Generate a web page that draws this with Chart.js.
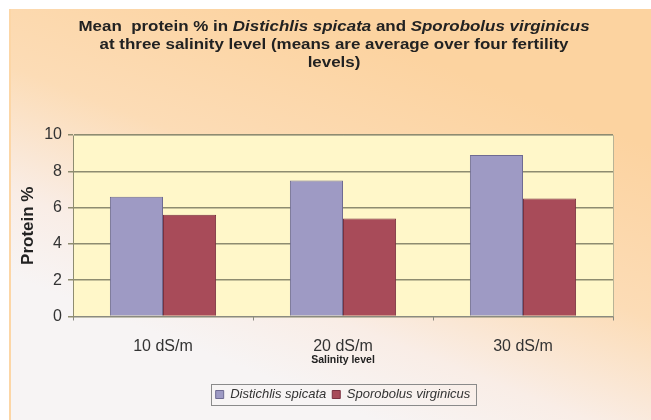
<!DOCTYPE html>
<html>
<head>
<meta charset="utf-8">
<script src="https://cdn.jsdelivr.net/npm/chart.js@4"></script>
<style>
  html, body { margin: 0; padding: 0; background: #fff; }
  #wrap { width: 651px; height: 420px; }
</style>
</head>
<body>
<div id="wrap"><canvas id="chart" width="651" height="420"></canvas></div>
<script>
const salinity = ['10 dS/m', '20 dS/m', '30 dS/m'];
const distichlis = [6.6, 7.5, 8.9];
const sporobolus = [5.6, 5.4, 6.5];
const seriesNames = ['Distichlis spicata', 'Sporobolus virginicus'];
const yTicks = [0, 2, 4, 6, 8, 10];

// title lines, each split into [text, italic] pieces
const titleLines = [
  [['Mean  protein % in ', false], ['Distichlis spicata', true], [' and ', false], ['Sporobolus virginicus', true]],
  [['at three salinity level (means are average over four fertility', false]],
  [['levels)', false]]
];

const FONT = '"Liberation Sans", Arial, sans-serif';

const backdrop = {
  id: 'backdrop',
  afterLayout(chart) {
    // centre the legend under the plot area instead of the whole canvas
    const l = chart.legend, a = chart.chartArea;
    const shift = (a.left + a.right) / 2 - (l.left + l.right) / 2;
    l.left += shift;
    l.right += shift;
  },
  beforeDraw(chart) {
    const c = chart.ctx, a = chart.chartArea;
    c.save();
    c.fillStyle = '#ffffff';
    c.fillRect(0, 0, chart.width, chart.height);
    const g = c.createLinearGradient(430, 60, 300, 390);
    g.addColorStop(0, '#fcd3a0');
    g.addColorStop(0.45, '#fcdcb6');
    g.addColorStop(0.78, '#f9ede6');
    g.addColorStop(1, '#f7f4f4');
    c.fillStyle = g;
    c.fillRect(9, 9, chart.width - 9, chart.height - 9);
    c.fillStyle = '#fcd6a6';
    c.fillRect(9, 9, 2, chart.height - 9);
    c.fillStyle = '#fff7c9';
    c.fillRect(a.left, a.top, a.right - a.left, a.bottom - a.top);
    c.restore();
  },
  afterDraw(chart) {
    const c = chart.ctx, a = chart.chartArea;
    c.save();
    // plot frame
    c.strokeStyle = '#b8b496';
    c.lineWidth = 1;
    c.beginPath();
    c.moveTo(a.left, a.top + 0.5);
    c.lineTo(a.right + 0.5, a.top + 0.5);
    c.lineTo(a.right + 0.5, a.bottom);
    c.stroke();
    // legend frame around the items only
    const hb = chart.legend.legendHitBoxes;
    if (hb && hb.length) {
      const x0 = Math.min(...hb.map(h => h.left)) - 5;
      const x1 = Math.max(...hb.map(h => h.left + h.width)) + 5;
      const y0 = Math.min(...hb.map(h => h.top)) - 4;
      const y1 = Math.max(...hb.map(h => h.top + h.height)) + 4;
      c.strokeStyle = '#8a8a8a';
      c.strokeRect(Math.round(x0) + 0.5, Math.round(y0) + 0.5, Math.round(x1 - x0), Math.round(y1 - y0));
    }
    // title, slightly widened like the original
    c.fillStyle = '#222';
    c.textBaseline = 'middle';
    const ys = [27, 45, 63];
    const sx = 1.21;
    titleLines.forEach((line, i) => {
      let total = 0;
      line.forEach(([t, it]) => {
        c.font = (it ? 'italic ' : '') + 'bold 14px ' + FONT;
        total += c.measureText(t).width;
      });
      c.save();
      c.translate(334, ys[i]);
      c.scale(sx, 1);
      let x = -total / 2;
      line.forEach(([t, it]) => {
        c.font = (it ? 'italic ' : '') + 'bold 14px ' + FONT;
        c.fillText(t, x, 0);
        x += c.measureText(t).width;
      });
      c.restore();
    });
    c.restore();
  }
};

new Chart(document.getElementById('chart'), {
  type: 'bar',
  data: {
    labels: salinity,
    datasets: [
      { label: seriesNames[0], data: distichlis, backgroundColor: '#9e9ac4', borderColor: '#6f6b92', borderWidth: 1 },
      { label: seriesNames[1], data: sporobolus, backgroundColor: '#a84b59', borderColor: '#7a3140', borderWidth: 1 }
    ]
  },
  plugins: [backdrop],
  options: {
    responsive: false,
    animation: false,
    layout: { padding: { left: 8, top: 135, right: 38, bottom: 9 } },
    datasets: { bar: { categoryPercentage: 0.59, barPercentage: 1 } },
    scales: {
      x: {
        grid: { drawOnChartArea: false, tickLength: 4, color: '#8a8a80', offset: true },
        border: { color: '#8a8a80' },
        ticks: { color: '#333', font: { size: 16, family: FONT, lineHeight: 1 }, padding: 18 },
        title: { display: true, text: 'Salinity level', color: '#222', font: { size: 10.5, weight: 'bold', family: FONT, lineHeight: 1 }, padding: { top: -18, bottom: 17 } }
      },
      y: {
        min: 0, max: 10,
        afterBuildTicks(s) { s.ticks = yTicks.map(v => ({ value: v })); },
        afterFit(s) { s.width = 65; },
        grid: { color: '#8e8c70', tickLength: 5, lineWidth: 1.5 },
        border: { color: '#8e8c70' },
        ticks: { color: '#333', font: { size: 16, family: FONT }, padding: 6 },
        title: { display: true, text: 'Protein %', color: '#222', font: { size: 17, weight: 'bold', family: FONT }, padding: { top: 10, bottom: 0 } }
      }
    },
    plugins: {
      title: { display: false },
      tooltip: { enabled: false },
      legend: {
        position: 'bottom',
        labels: {
          boxWidth: 8, boxHeight: 8, padding: 6, color: '#333',
          font: { size: 13, style: 'italic', family: FONT }
        }
      }
    }
  }
});
</script>
</body>
</html>
